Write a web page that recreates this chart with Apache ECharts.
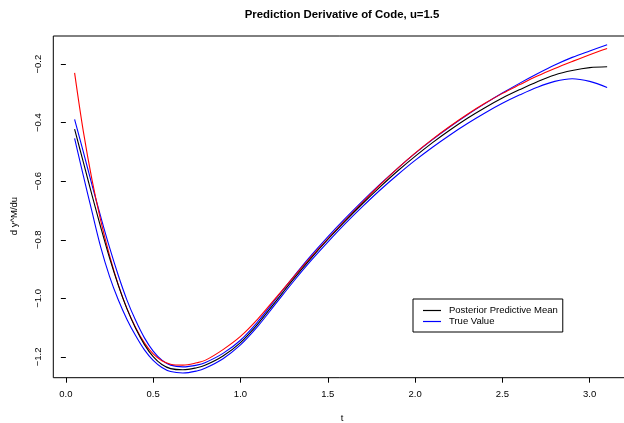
<!DOCTYPE html>
<html>
<head>
<meta charset="utf-8">
<script src="https://cdn.jsdelivr.net/npm/echarts@6/dist/echarts.min.js"></script>
<style>
html,body{margin:0;padding:0;background:#fff;}
#chart{width:624px;height:423px;}
</style>
</head>
<body>
<div id="chart"></div>
<script>
// ---- data ----
const tVals = [0.05,0.1,0.15,0.2,0.25,0.3,0.35,0.4,0.45,0.5,0.55,0.6,0.67,0.75,0.8,0.9,1.0,1.1,1.2,1.3,1.4,1.5,1.6,1.7,1.8,1.9,2.0,2.1,2.2,2.3,2.4,2.5,2.6,2.7,2.8,2.9,3.0,3.1];
const trueCurve = [-0.23,-0.43,-0.596,-0.735,-0.853,-0.953,-1.035,-1.10,-1.152,-1.19,-1.213,-1.225,-1.228,-1.22,-1.211,-1.175,-1.13,-1.07,-1.0,-0.93,-0.862,-0.797,-0.733,-0.671,-0.612,-0.556,-0.504,-0.456,-0.412,-0.371,-0.334,-0.300,-0.270,-0.241,-0.215,-0.191,-0.168,-0.147];
const meanCurve = [-0.422,-0.535,-0.648,-0.758,-0.862,-0.955,-1.036,-1.103,-1.158,-1.199,-1.226,-1.24,-1.244,-1.237,-1.228,-1.197,-1.151,-1.087,-1.012,-0.937,-0.866,-0.799,-0.736,-0.676,-0.619,-0.565,-0.515,-0.468,-0.425,-0.385,-0.349,-0.316,-0.287,-0.26,-0.237,-0.222,-0.212,-0.209];
const upperCurve = [-0.389,-0.50,-0.613,-0.722,-0.826,-0.921,-1.006,-1.076,-1.135,-1.18,-1.211,-1.228,-1.234,-1.228,-1.219,-1.188,-1.143,-1.079,-1.004,-0.929,-0.857,-0.79,-0.727,-0.667,-0.61,-0.556,-0.505,-0.458,-0.414,-0.373,-0.335,-0.299,-0.265,-0.233,-0.203,-0.177,-0.155,-0.134];
const lowerCurve = [-0.454,-0.581,-0.705,-0.826,-0.925,-1.005,-1.072,-1.128,-1.176,-1.212,-1.236,-1.25,-1.255,-1.248,-1.238,-1.206,-1.159,-1.095,-1.02,-0.945,-0.874,-0.808,-0.745,-0.686,-0.63,-0.578,-0.529,-0.484,-0.442,-0.403,-0.367,-0.334,-0.305,-0.279,-0.259,-0.25,-0.259,-0.28];
const xTicks = [0.0,0.5,1.0,1.5,2.0,2.5,3.0];
const yTicks = [-1.2,-1.0,-0.8,-0.6,-0.4,-0.2];
const titleText = 'Prediction Derivative of Code, u=1.5';
const xName = 't';
const yName = 'd y^M/du';
const legendNames = ['Posterior Predictive Mean','True Value'];

const pairs = arr => tVals.map((t,i)=>[t,arr[i]]);
const FONT = '"Liberation Sans", Arial, Helvetica, sans-serif';
const fmtY = v => (v < 0 ? '\u2212' : '') + Math.abs(v).toFixed(1);

const chart = echarts.init(document.getElementById('chart'), null, {renderer:'canvas'});
const lineSeries = (name, data, color, z) => ({
  name, type:'line', data: pairs(data), showSymbol:false, symbol:'none',
  smooth:0.35, lineStyle:{color, width:1.1}, itemStyle:{color}, z, silent:true
});
chart.setOption({
  animation:false,
  backgroundColor:'#fff',
  grid:{left:53.3, top:36, width:577.4, height:341.7, show:true, borderColor:'#000', borderWidth:1, backgroundColor:'transparent', containLabel:false, outerBoundsMode:'none'},
  xAxis:{
    type:'value', min:-0.072, max:3.235,
    axisLine:{show:false}, splitLine:{show:false},
    axisTick:{show:true, length:5, inside:false, customValues:xTicks, lineStyle:{color:'#000', width:1}},
    axisLabel:{customValues:xTicks, formatter:v=>Number(v).toFixed(1), margin:12, fontSize:9.5, color:'#000', fontFamily:FONT}
  },
  yAxis:{
    type:'value', min:-1.271, max:-0.104,
    axisLine:{show:false}, splitLine:{show:false},
    axisTick:{show:true, length:5, inside:false, customValues:yTicks, lineStyle:{color:'#000', width:1}},
    axisLabel:{customValues:yTicks, formatter:fmtY, rotate:90, margin:10, fontSize:9.5, color:'#000', fontFamily:FONT}
  },
  legend:{
    orient:'vertical', left:413, top:299,
    data:[{name:legendNames[0], itemStyle:{color:'#000'}},{name:legendNames[1], itemStyle:{color:'#0000ff'}}],
    icon:'rect', itemWidth:18, itemHeight:1.2, itemGap:0,
    borderColor:'#000', borderWidth:1, borderRadius:0, padding:[6,5,5,10],
    backgroundColor:'#fff',
    textStyle:{fontSize:9.5, lineHeight:11, color:'#000', fontFamily:FONT, padding:[0,0,0,3]},
    selectedMode:false
  },
  graphic:[
    {type:'text', x:342, y:15, style:{text:titleText, font:'bold 11.4px '+FONT, fill:'#000', textAlign:'center', textVerticalAlign:'middle'}},
    {type:'text', x:342, y:418, style:{text:xName, font:'9.5px '+FONT, fill:'#000', textAlign:'center', textVerticalAlign:'middle'}},
    {type:'text', x:14, y:216, rotation:Math.PI/2, style:{text:yName, font:'9.5px '+FONT, fill:'#000', textAlign:'center', textVerticalAlign:'middle'}}
  ],
  series:[
    lineSeries('Truth', trueCurve, '#ff0000', 3),
    lineSeries(legendNames[1], upperCurve, '#0000ff', 2),
    lineSeries(legendNames[1], lowerCurve, '#0000ff', 2),
    lineSeries(legendNames[0], meanCurve, '#000000', 4)
  ]
});
</script>
</body>
</html>
